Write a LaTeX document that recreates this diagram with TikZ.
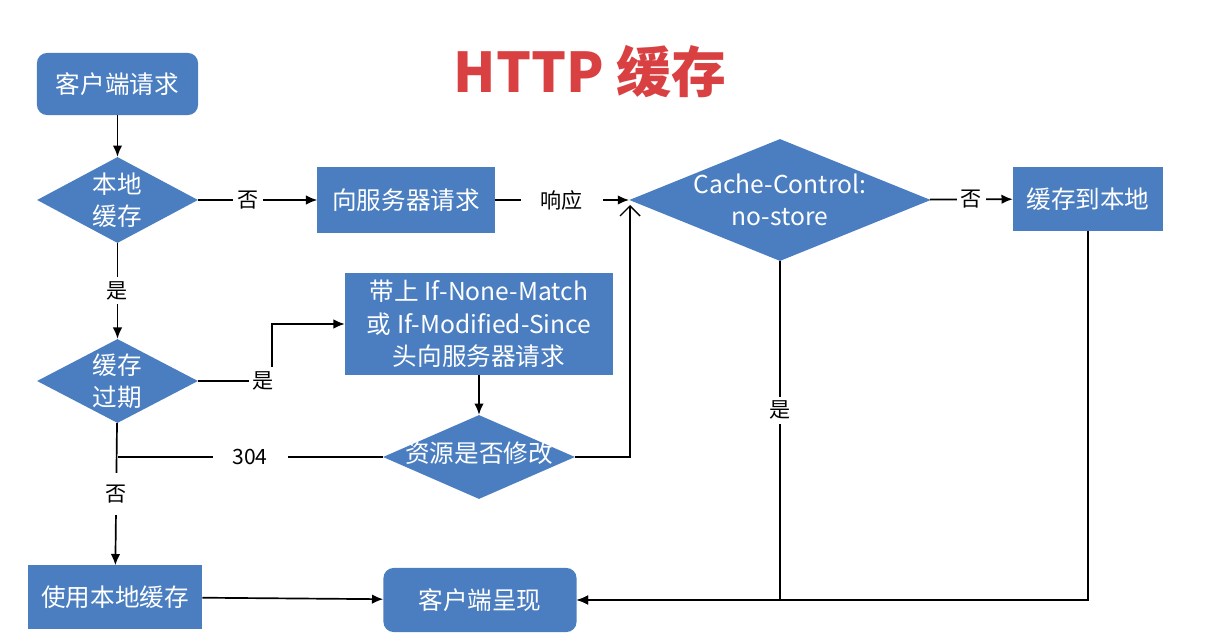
\documentclass[tikz,border=0pt]{standalone}
\usepackage{fontspec}
\setmainfont{Noto Sans CJK SC}
\usepackage{tikz}
\usetikzlibrary{shapes.geometric, arrows.meta, positioning, calc}
\definecolor{flowblue}{RGB}{74,126,193}
\definecolor{titlered}{RGB}{217,64,66}
\tikzset{
  blockbox/.style={rectangle, fill=flowblue, text=white, align=center,
                   inner sep=0pt, font=\fontsize{17.5}{23}\selectfont},
  roundbox/.style={blockbox, rounded corners=0.25cm},
  choice/.style={diamond, fill=flowblue, text=white, align=center,
                 inner sep=0pt, font=\fontsize{17.5}{23}\selectfont},
  lbl/.style={fill=white, inner sep=3pt, font=\fontsize{15}{18}\selectfont},
  wire/.style={line width=1.2pt},
  arr/.style={-{Latex[length=2.8mm, width=2.4mm]}, line width=1.2pt},
}
\begin{document}
\begin{tikzpicture}[x=0.025cm, y=-0.025cm]
  \useasboundingbox (0,0) rectangle (1224,642);

  % Title
  \node[font=\fontsize{39}{44}\selectfont\bfseries, text=titlered] (title) at (590,72) {HTTP 缓存};

  % Nodes
  \node[roundbox, minimum width=4.025cm, minimum height=1.55cm] (request) at (117.5,84) {客户端请求};
  \node[choice, aspect=1.87, minimum width=4.025cm, minimum height=2.15cm] (local) at (117.5,200) {本地\\缓存};
  \node[blockbox, minimum width=4.425cm, minimum height=1.625cm] (server) at (406,200) {向服务器请求};
  \node[choice, aspect=2.47, minimum width=7.4cm, minimum height=3cm] (ccontrol) at (780,200) {Cache-Control:\\no-store};
  \node[blockbox, minimum width=3.75cm, minimum height=1.6cm] (store) at (1088,199) {缓存到本地};

  \node[choice, aspect=1.92, minimum width=4.025cm, minimum height=2.1cm] (expired) at (117.5,381) {缓存\\过期};
  \node[blockbox, minimum width=6.7cm, minimum height=2.55cm] (cond) at (479,324)
    {带上 If-None-Match\\或 If-Modified-Since\\头向服务器请求};
  \node[choice, aspect=2.29, minimum width=4.8cm, minimum height=2.1cm, text height=1.4ex, text depth=0pt] (modified) at (479,457) {资源是否修改};

  \node[blockbox, minimum width=4.35cm, minimum height=1.575cm] (usecache) at (115,597) {使用本地缓存};
  \node[roundbox, minimum width=4.825cm, minimum height=1.6cm] (render) at (480,600) {客户端呈现};

  \coordinate (join) at (630,205);

  % Edges
  \draw[arr] (request) -- (local);
  \draw[arr] (local) -- node[lbl, pos=0.42] {否} (server);
  \draw[arr] (server) -- node[lbl, inner xsep=0.5cm] {响应} (ccontrol);
  \draw[arr] (ccontrol) -- node[lbl] {否} (store);

  \draw[arr] (local) -- node[lbl] {是} (expired);
  \draw[arr] (expired.east) -- node[lbl, pos=0.88] {是} ++(74,0) |- (cond.west);
  \draw[arr] (cond) -- (modified);
  \draw[wire] (modified.west) -- node[lbl, inner xsep=0.5cm] {304} (expired.south |- modified.west);
  \draw[arr] (expired) -- node[lbl, inner ysep=0.3cm] {否} (usecache);
  \draw[-{Straight Barb[length=2.5mm]}, line width=1pt] (modified.east) -| (join);

  \draw[arr] (ccontrol.south) -- node[lbl, pos=0.44] {是} (ccontrol.south |- render.east) -- (render.east);
  \draw[arr] (store.south) |- (render.east);
  \draw[arr] (usecache) -- (render);
\end{tikzpicture}
\end{document}
